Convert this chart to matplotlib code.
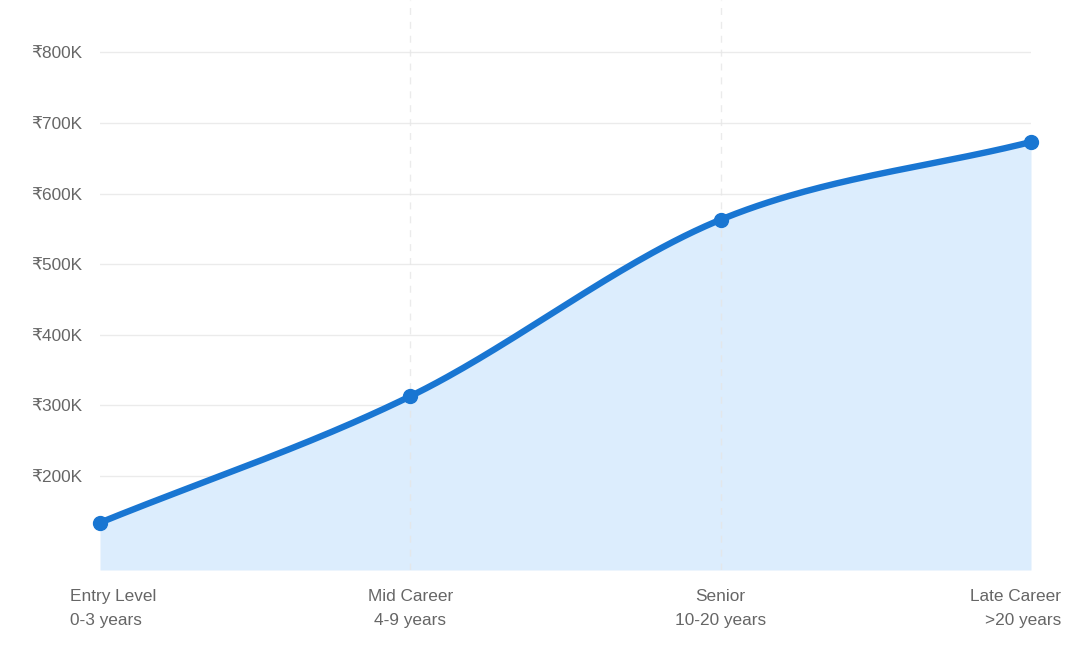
import numpy as np
import matplotlib
matplotlib.use("Agg")
import matplotlib.pyplot as plt
from matplotlib.transforms import ScaledTranslation

plt.rcParams['font.family'] = ['Liberation Sans', 'DejaVu Sans']

# salary progression (thousands of rupees)
stages = ["Entry Level\n0-3 years", "Mid Career\n4-9 years", "Senior\n10-20 years", "Late Career\n>20 years"]
salary_k = [134, 313, 563, 673]
y_ticks = [200, 300, 400, 500, 600, 700, 800]
y_tick_labels = ["₹200K", "₹300K", "₹400K", "₹500K", "₹600K", "₹700K", "₹800K"]

LINE = '#1976D2'
FILL = '#dcedfd'
TEXT = '#666666'


def monotone_curve(x, y, n=60):
    # Fritsch-Carlson monotone cubic, only used to draw a smooth line
    x = np.asarray(x, float)
    y = np.asarray(y, float)
    h = np.diff(x)
    d = np.diff(y) / h
    m = np.zeros_like(y)
    m[0], m[-1] = d[0], d[-1]
    for i in range(1, len(y) - 1):
        m[i] = 0 if d[i - 1] * d[i] <= 0 else (d[i - 1] + d[i]) / 2
    for i in range(len(d)):
        if d[i] == 0:
            m[i] = m[i + 1] = 0
            continue
        a, b = m[i] / d[i], m[i + 1] / d[i]
        s = a * a + b * b
        if s > 9:
            t = 3 / np.sqrt(s)
            m[i], m[i + 1] = t * a * d[i], t * b * d[i]
    xs, ys = [], []
    for i in range(len(d)):
        t = np.linspace(0, 1, n)
        h00 = 2 * t**3 - 3 * t**2 + 1
        h10 = t**3 - 2 * t**2 + t
        h01 = -2 * t**3 + 3 * t**2
        h11 = t**3 - t**2
        xs.append(x[i] + t * h[i])
        ys.append(h00 * y[i] + h10 * h[i] * m[i] + h01 * y[i + 1] + h11 * h[i] * m[i + 1])
    return np.concatenate(xs), np.concatenate(ys)


x = np.arange(len(stages))
cx, cy = monotone_curve(x, salary_k)

fig = plt.figure(figsize=(10.86, 6.51), dpi=100)
ax = fig.add_axes([100 / 1086, 81 / 651, 931 / 1086, 570 / 651])

ymin, ymax = 67, 874
ax.fill_between(cx, cy, ymin, color=FILL, linewidth=0, zorder=1)
# faint dashed verticals at the inner categories, visible through the fill
for xi in x[1:-1]:
    ax.axvline(xi, color='#e6e6e6', linewidth=1, linestyle=(0, (5, 5)), alpha=0.8, zorder=2)
ax.plot(cx, cy, color=LINE, linewidth=4.6, solid_capstyle='round', zorder=3)
ax.plot(x, salary_k, 'o', color=LINE, markersize=10, zorder=4, clip_on=False)

ax.set_xlim(0, len(stages) - 1)
ax.set_ylim(ymin, ymax)

ax.set_yticks(y_ticks)
ax.set_yticklabels(y_tick_labels)
ax.set_xticks(x)
ax.set_xticklabels(stages, linespacing=1.75)

ax.tick_params(axis='both', length=0, labelsize=12.4, labelcolor=TEXT)
ax.tick_params(axis='y', pad=13)
ax.tick_params(axis='x', pad=14)

ax.grid(axis='y', color='#ebebeb', linewidth=1, zorder=0)
ax.set_axisbelow(True)
for s in ax.spines.values():
    s.set_visible(False)

# first and last labels are pulled inward like the web chart does
labels = ax.get_xticklabels()
labels[0].set_horizontalalignment('left')
labels[0].set_transform(labels[0].get_transform() + ScaledTranslation(-0.30, 0, fig.dpi_scale_trans))
labels[-1].set_horizontalalignment('right')
labels[-1].set_transform(labels[-1].get_transform() + ScaledTranslation(0.30, 0, fig.dpi_scale_trans))

fig.savefig("out.png", dpi=100)
